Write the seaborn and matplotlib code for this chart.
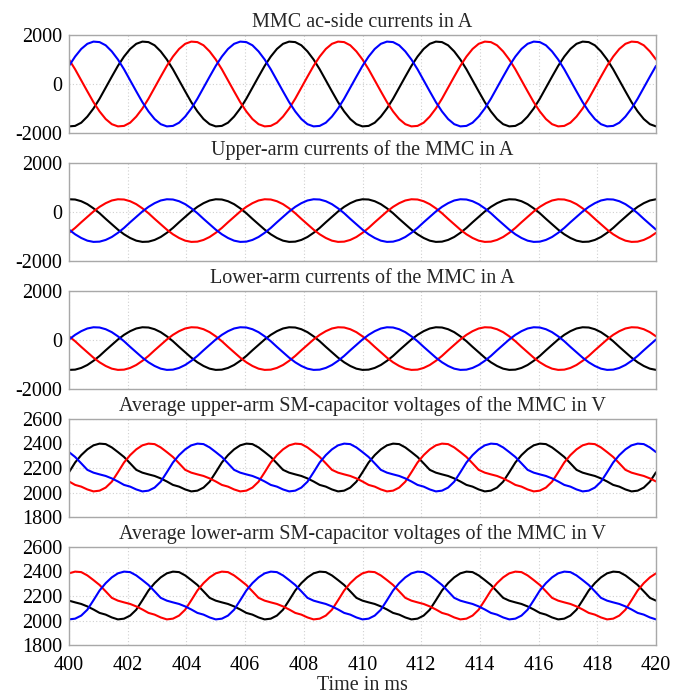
import numpy as np
import pandas as pd
import matplotlib
matplotlib.use("Agg")
import matplotlib.pyplot as plt
import seaborn as sns

# ---------------- data ----------------
time_start, time_end, n_pts = 400, 420, 97
x_ticks = [400, 402, 404, 406, 408, 410, 412, 414, 416, 418, 420]

titles = [
    "MMC ac-side currents in A",
    "Upper-arm currents of the MMC in A",
    "Lower-arm currents of the MMC in A",
    "Average upper-arm SM-capacitor voltages of the MMC in V",
    "Average lower-arm SM-capacitor voltages of the MMC in V",
]
x_label = "Time in ms"

ac_black = [
    -1730, -1710, -1580, -1330, -1000, -600, -150, 300, 740, 1120, 1430, 1640, 1730, 1710, 1580, 1330, 1000, 600, 150, -300, -740, -1120, -1430, -1640,
    -1730, -1710, -1580, -1330, -1000, -600, -150, 300, 740, 1120, 1430, 1640, 1730, 1710, 1580, 1330, 1000, 600, 150, -300, -740, -1120, -1430, -1640,
    -1730, -1710, -1580, -1330, -1000, -600, -150, 300, 740, 1120, 1430, 1640, 1730, 1710, 1580, 1330, 1000, 600, 150, -300, -740, -1120, -1430, -1640,
    -1730, -1710, -1580, -1330, -1000, -600, -150, 300, 740, 1120, 1430, 1640, 1730, 1710, 1580, 1330, 1000, 600, 150, -300, -740, -1120, -1430, -1640,
    -1730]
ac_red = [
    1000, 600, 150, -300, -740, -1120, -1430, -1640, -1730, -1710, -1580, -1330, -1000, -600, -150, 300, 740, 1120, 1430, 1640, 1730, 1710, 1580, 1330,
    1000, 600, 150, -300, -740, -1120, -1430, -1640, -1730, -1710, -1580, -1330, -1000, -600, -150, 300, 740, 1120, 1430, 1640, 1730, 1710, 1580, 1330,
    1000, 600, 150, -300, -740, -1120, -1430, -1640, -1730, -1710, -1580, -1330, -1000, -600, -150, 300, 740, 1120, 1430, 1640, 1730, 1710, 1580, 1330,
    1000, 600, 150, -300, -740, -1120, -1430, -1640, -1730, -1710, -1580, -1330, -1000, -600, -150, 300, 740, 1120, 1430, 1640, 1730, 1710, 1580, 1330,
    1000]
ac_blue = [
    740, 1120, 1430, 1640, 1730, 1710, 1580, 1330, 1000, 600, 150, -300, -740, -1120, -1430, -1640, -1730, -1710, -1580, -1330, -1000, -600, -150, 300,
    740, 1120, 1430, 1640, 1730, 1710, 1580, 1330, 1000, 600, 150, -300, -740, -1120, -1430, -1640, -1730, -1710, -1580, -1330, -1000, -600, -150, 300,
    740, 1120, 1430, 1640, 1730, 1710, 1580, 1330, 1000, 600, 150, -300, -740, -1120, -1430, -1640, -1730, -1710, -1580, -1330, -1000, -600, -150, 300,
    740, 1120, 1430, 1640, 1730, 1710, 1580, 1330, 1000, 600, 150, -300, -740, -1120, -1430, -1640, -1730, -1710, -1580, -1330, -1000, -600, -150, 300,
    740]

up_black = [
    520, 510, 440, 320, 150, -50, -280, -500, -720, -910, -1060, -1170, -1220, -1210, -1140, -1020, -850, -650, -420, -200, 20, 210, 360, 470,
    520, 510, 440, 320, 150, -50, -280, -500, -720, -910, -1060, -1170, -1220, -1210, -1140, -1020, -850, -650, -420, -200, 20, 210, 360, 470,
    520, 510, 440, 320, 150, -50, -280, -500, -720, -910, -1060, -1170, -1220, -1210, -1140, -1020, -850, -650, -420, -200, 20, 210, 360, 470,
    520, 510, 440, 320, 150, -50, -280, -500, -720, -910, -1060, -1170, -1220, -1210, -1140, -1020, -850, -650, -420, -200, 20, 210, 360, 470,
    520]
up_red = [
    -850, -650, -420, -200, 20, 210, 360, 470, 520, 510, 440, 320, 150, -50, -280, -500, -720, -910, -1060, -1170, -1220, -1210, -1140, -1020,
    -850, -650, -420, -200, 20, 210, 360, 470, 520, 510, 440, 320, 150, -50, -280, -500, -720, -910, -1060, -1170, -1220, -1210, -1140, -1020,
    -850, -650, -420, -200, 20, 210, 360, 470, 520, 510, 440, 320, 150, -50, -280, -500, -720, -910, -1060, -1170, -1220, -1210, -1140, -1020,
    -850, -650, -420, -200, 20, 210, 360, 470, 520, 510, 440, 320, 150, -50, -280, -500, -720, -910, -1060, -1170, -1220, -1210, -1140, -1020,
    -850]
up_blue = [
    -720, -910, -1060, -1170, -1220, -1210, -1140, -1020, -850, -650, -420, -200, 20, 210, 360, 470, 520, 510, 440, 320, 150, -50, -280, -500,
    -720, -910, -1060, -1170, -1220, -1210, -1140, -1020, -850, -650, -420, -200, 20, 210, 360, 470, 520, 510, 440, 320, 150, -50, -280, -500,
    -720, -910, -1060, -1170, -1220, -1210, -1140, -1020, -850, -650, -420, -200, 20, 210, 360, 470, 520, 510, 440, 320, 150, -50, -280, -500,
    -720, -910, -1060, -1170, -1220, -1210, -1140, -1020, -850, -650, -420, -200, 20, 210, 360, 470, 520, 510, 440, 320, 150, -50, -280, -500,
    -720]

lo_black = [
    -1220, -1210, -1140, -1020, -850, -650, -420, -200, 20, 210, 360, 470, 520, 510, 440, 320, 150, -50, -280, -500, -720, -910, -1060, -1170,
    -1220, -1210, -1140, -1020, -850, -650, -420, -200, 20, 210, 360, 470, 520, 510, 440, 320, 150, -50, -280, -500, -720, -910, -1060, -1170,
    -1220, -1210, -1140, -1020, -850, -650, -420, -200, 20, 210, 360, 470, 520, 510, 440, 320, 150, -50, -280, -500, -720, -910, -1060, -1170,
    -1220, -1210, -1140, -1020, -850, -650, -420, -200, 20, 210, 360, 470, 520, 510, 440, 320, 150, -50, -280, -500, -720, -910, -1060, -1170,
    -1220]
lo_red = [
    150, -50, -280, -500, -720, -910, -1060, -1170, -1220, -1210, -1140, -1020, -850, -650, -420, -200, 20, 210, 360, 470, 520, 510, 440, 320,
    150, -50, -280, -500, -720, -910, -1060, -1170, -1220, -1210, -1140, -1020, -850, -650, -420, -200, 20, 210, 360, 470, 520, 510, 440, 320,
    150, -50, -280, -500, -720, -910, -1060, -1170, -1220, -1210, -1140, -1020, -850, -650, -420, -200, 20, 210, 360, 470, 520, 510, 440, 320,
    150, -50, -280, -500, -720, -910, -1060, -1170, -1220, -1210, -1140, -1020, -850, -650, -420, -200, 20, 210, 360, 470, 520, 510, 440, 320,
    150]
lo_blue = [
    20, 210, 360, 470, 520, 510, 440, 320, 150, -50, -280, -500, -720, -910, -1060, -1170, -1220, -1210, -1140, -1020, -850, -650, -420, -200,
    20, 210, 360, 470, 520, 510, 440, 320, 150, -50, -280, -500, -720, -910, -1060, -1170, -1220, -1210, -1140, -1020, -850, -650, -420, -200,
    20, 210, 360, 470, 520, 510, 440, 320, 150, -50, -280, -500, -720, -910, -1060, -1170, -1220, -1210, -1140, -1020, -850, -650, -420, -200,
    20, 210, 360, 470, 520, 510, 440, 320, 150, -50, -280, -500, -720, -910, -1060, -1170, -1220, -1210, -1140, -1020, -850, -650, -420, -200,
    20]

vcu_black = [
    2165, 2245, 2305, 2352, 2385, 2399, 2395, 2368, 2330, 2290, 2238, 2185, 2162, 2148, 2135, 2115, 2090, 2062, 2048, 2025, 2009, 2015, 2040, 2088,
    2165, 2245, 2305, 2352, 2385, 2399, 2395, 2368, 2330, 2290, 2238, 2185, 2162, 2148, 2135, 2115, 2090, 2062, 2048, 2025, 2009, 2015, 2040, 2088,
    2165, 2245, 2305, 2352, 2385, 2399, 2395, 2368, 2330, 2290, 2238, 2185, 2162, 2148, 2135, 2115, 2090, 2062, 2048, 2025, 2009, 2015, 2040, 2088,
    2165, 2245, 2305, 2352, 2385, 2399, 2395, 2368, 2330, 2290, 2238, 2185, 2162, 2148, 2135, 2115, 2090, 2062, 2048, 2025, 2009, 2015, 2040, 2088,
    2165]
vcu_red = [
    2090, 2062, 2048, 2025, 2009, 2015, 2040, 2088, 2165, 2245, 2305, 2352, 2385, 2399, 2395, 2368, 2330, 2290, 2238, 2185, 2162, 2148, 2135, 2115,
    2090, 2062, 2048, 2025, 2009, 2015, 2040, 2088, 2165, 2245, 2305, 2352, 2385, 2399, 2395, 2368, 2330, 2290, 2238, 2185, 2162, 2148, 2135, 2115,
    2090, 2062, 2048, 2025, 2009, 2015, 2040, 2088, 2165, 2245, 2305, 2352, 2385, 2399, 2395, 2368, 2330, 2290, 2238, 2185, 2162, 2148, 2135, 2115,
    2090, 2062, 2048, 2025, 2009, 2015, 2040, 2088, 2165, 2245, 2305, 2352, 2385, 2399, 2395, 2368, 2330, 2290, 2238, 2185, 2162, 2148, 2135, 2115,
    2090]
vcu_blue = [
    2330, 2290, 2238, 2185, 2162, 2148, 2135, 2115, 2090, 2062, 2048, 2025, 2009, 2015, 2040, 2088, 2165, 2245, 2305, 2352, 2385, 2399, 2395, 2368,
    2330, 2290, 2238, 2185, 2162, 2148, 2135, 2115, 2090, 2062, 2048, 2025, 2009, 2015, 2040, 2088, 2165, 2245, 2305, 2352, 2385, 2399, 2395, 2368,
    2330, 2290, 2238, 2185, 2162, 2148, 2135, 2115, 2090, 2062, 2048, 2025, 2009, 2015, 2040, 2088, 2165, 2245, 2305, 2352, 2385, 2399, 2395, 2368,
    2330, 2290, 2238, 2185, 2162, 2148, 2135, 2115, 2090, 2062, 2048, 2025, 2009, 2015, 2040, 2088, 2165, 2245, 2305, 2352, 2385, 2399, 2395, 2368,
    2330]

vcl_black = [
    2162, 2148, 2135, 2115, 2090, 2062, 2048, 2025, 2009, 2015, 2040, 2088, 2165, 2245, 2305, 2352, 2385, 2399, 2395, 2368, 2330, 2290, 2238, 2185,
    2162, 2148, 2135, 2115, 2090, 2062, 2048, 2025, 2009, 2015, 2040, 2088, 2165, 2245, 2305, 2352, 2385, 2399, 2395, 2368, 2330, 2290, 2238, 2185,
    2162, 2148, 2135, 2115, 2090, 2062, 2048, 2025, 2009, 2015, 2040, 2088, 2165, 2245, 2305, 2352, 2385, 2399, 2395, 2368, 2330, 2290, 2238, 2185,
    2162, 2148, 2135, 2115, 2090, 2062, 2048, 2025, 2009, 2015, 2040, 2088, 2165, 2245, 2305, 2352, 2385, 2399, 2395, 2368, 2330, 2290, 2238, 2185,
    2162]
vcl_red = [
    2385, 2399, 2395, 2368, 2330, 2290, 2238, 2185, 2162, 2148, 2135, 2115, 2090, 2062, 2048, 2025, 2009, 2015, 2040, 2088, 2165, 2245, 2305, 2352,
    2385, 2399, 2395, 2368, 2330, 2290, 2238, 2185, 2162, 2148, 2135, 2115, 2090, 2062, 2048, 2025, 2009, 2015, 2040, 2088, 2165, 2245, 2305, 2352,
    2385, 2399, 2395, 2368, 2330, 2290, 2238, 2185, 2162, 2148, 2135, 2115, 2090, 2062, 2048, 2025, 2009, 2015, 2040, 2088, 2165, 2245, 2305, 2352,
    2385, 2399, 2395, 2368, 2330, 2290, 2238, 2185, 2162, 2148, 2135, 2115, 2090, 2062, 2048, 2025, 2009, 2015, 2040, 2088, 2165, 2245, 2305, 2352,
    2385]
vcl_blue = [
    2009, 2015, 2040, 2088, 2165, 2245, 2305, 2352, 2385, 2399, 2395, 2368, 2330, 2290, 2238, 2185, 2162, 2148, 2135, 2115, 2090, 2062, 2048, 2025,
    2009, 2015, 2040, 2088, 2165, 2245, 2305, 2352, 2385, 2399, 2395, 2368, 2330, 2290, 2238, 2185, 2162, 2148, 2135, 2115, 2090, 2062, 2048, 2025,
    2009, 2015, 2040, 2088, 2165, 2245, 2305, 2352, 2385, 2399, 2395, 2368, 2330, 2290, 2238, 2185, 2162, 2148, 2135, 2115, 2090, 2062, 2048, 2025,
    2009, 2015, 2040, 2088, 2165, 2245, 2305, 2352, 2385, 2399, 2395, 2368, 2330, 2290, 2238, 2185, 2162, 2148, 2135, 2115, 2090, 2062, 2048, 2025,
    2009]

panels = [
    (ac_black, ac_red, ac_blue),
    (up_black, up_red, up_blue),
    (lo_black, lo_red, lo_blue),
    (vcu_black, vcu_red, vcu_blue),
    (vcl_black, vcl_red, vcl_blue),
]
current_yticks = [-2000, 0, 2000]
voltage_yticks = [1800, 2000, 2200, 2400, 2600]

# ---------------- styling ----------------
sns.set_theme(style="white")
plt.rcParams["font.family"] = ["Liberation Serif", "DejaVu Serif"]
plt.rcParams["axes.unicode_minus"] = False

W, H = 692, 696
fig = plt.figure(figsize=(W / 100, H / 100), dpi=100)

left_px, right_px = 69, 656
tops_px = [35, 163, 291, 419, 547]
height_px = 98
palette = {"a": "#000000", "b": "#ff0000", "c": "#0000ff"}

t = np.linspace(time_start, time_end, n_pts)

for i, (series, title) in enumerate(zip(panels, titles)):
    top = tops_px[i]
    ax = fig.add_axes([left_px / W, (H - top - height_px) / H,
                       (right_px - left_px) / W, height_px / H])
    df = pd.DataFrame({
        "t": np.concatenate([t, t, t]),
        "v": np.concatenate([np.asarray(s, float) for s in series]),
        "phase": ["a"] * n_pts + ["b"] * n_pts + ["c"] * n_pts,
    })
    sns.lineplot(data=df, x="t", y="v", hue="phase", palette=palette,
                 estimator=None, sort=False, linewidth=1.5, legend=False, ax=ax)
    ax.set_xlim(time_start, time_end)
    ax.set_xticks(x_ticks)
    if i < 3:
        ax.set_ylim(-2000, 2000)
        ax.set_yticks(current_yticks)
    else:
        ax.set_ylim(1800, 2600)
        ax.set_yticks(voltage_yticks)
    ax.grid(True, linestyle=(0, (1, 2)), color="#d0d0d0", linewidth=0.8)
    for sp in ax.spines.values():
        sp.set_color("#a8a8a8")
        sp.set_linewidth(1.0)
    ax.tick_params(axis="both", length=0, labelsize=14.5, colors="black", pad=5)
    ax.set_xlabel("")
    ax.set_ylabel("")
    if i < 4:
        ax.tick_params(axis="x", labelbottom=False)
    else:
        ax.tick_params(axis="x", pad=8)
        ax.set_xlabel(x_label, fontsize=14.5, labelpad=1)
    ax.set_title(title, fontsize=14.5, pad=6)

fig.savefig("out.png", dpi=100)
